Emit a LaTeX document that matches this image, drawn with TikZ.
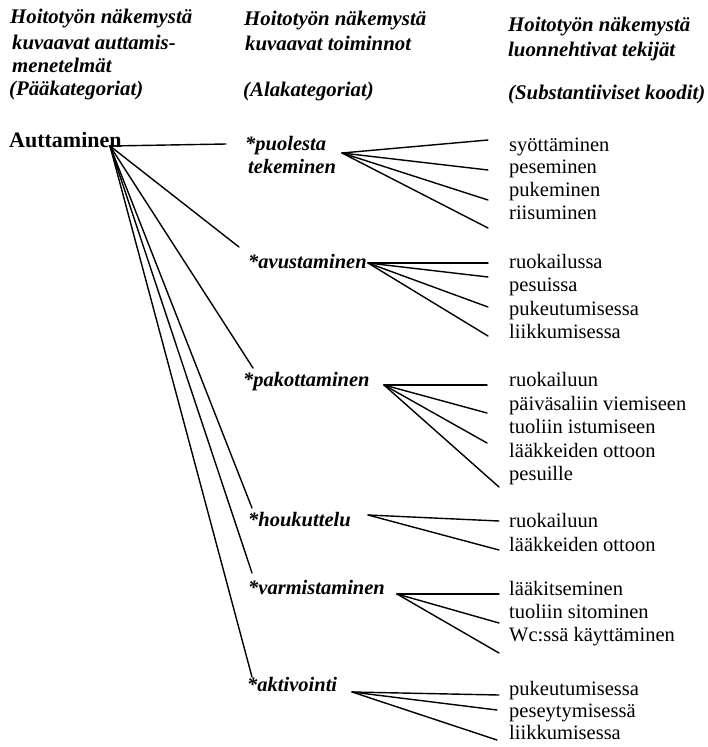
\documentclass[tikz,border=0pt]{standalone}
\usepackage{fontspec}
\setmainfont{Liberation Serif}
\begin{document}
\begin{tikzpicture}[x=1pt,y=-1pt,
  hdr/.style={anchor=base west, inner sep=0pt, font=\fontsize{20.8}{23}\selectfont\bfseries\itshape},
  sublbl/.style={anchor=base west, inner sep=0pt, font=\fontsize{20.5}{23}\selectfont\bfseries\itshape},
  codelbl/.style={anchor=base west, inner sep=0pt, font=\fontsize{20.5}{23}\selectfont},
  mainlbl/.style={anchor=base west, inner sep=0pt, font=\fontsize{22}{26}\selectfont\bfseries},
  link/.style={line width=1.4pt, line cap=round}]
\useasboundingbox (0,0) rectangle (708,747);
% headers
\node[hdr] (h11) at (10,23) {Hoitotyön näkemystä};
\node[hdr] (h12) at (12,49) {kuvaavat auttamis-};
\node[hdr] (h13) at (12,72) {menetelmät};
\node[hdr] (h14) at (9,95) {(Pääkategoriat)};
\node[hdr] (h21) at (244,25) {Hoitotyön näkemystä};
\node[hdr] (h22) at (245,50) {kuvaavat toiminnot};
\node[hdr] (h23) at (243,96) {(Alakategoriat)};
\node[hdr] (h31) at (508,31) {Hoitotyön näkemystä};
\node[hdr] (h32) at (508,56) {luonnehtivat tekijät};
\node[hdr] (h33) at (508,99) {(Substantiiviset koodit)};
% main category
\node[mainlbl] (aut) at (9,147) {Auttaminen};
\coordinate (o0) at (110,146);
% subcategories
\node[sublbl] (s1) at (245,150) {*puolesta};
\node[sublbl] (s1b) at (248,173) {tekeminen};
\node[sublbl] (s2) at (248,268) {*avustaminen};
\node[sublbl] (s3) at (243,386) {*pakottaminen};
\node[sublbl] (s4) at (248,526) {*houkuttelu};
\node[sublbl] (s5) at (248,594) {*varmistaminen};
\node[sublbl] (s6) at (247,691) {*aktivointi};
% endpoints of main lines
\coordinate (e1) at (226,144);
\coordinate (e2) at (239,247);
\coordinate (e3) at (253,368);
\coordinate (e4) at (252,508);
\coordinate (e5) at (252,573);
\coordinate (e6) at (252,677);
\foreach \i in {1,...,6} \draw[link] (o0) -- (e\i);
% fan origins
\coordinate (f1) at (342,153);
\coordinate (f2) at (368,263);
\coordinate (f3) at (384,385);
\coordinate (f4) at (368,515);
\coordinate (f5) at (397,594);
\coordinate (f6) at (352,692);
% codes group 1
\node[codelbl] (c11) at (509,151) {syöttäminen};
\node[codelbl] (c12) at (509,173) {peseminen};
\node[codelbl] (c13) at (509,196) {pukeminen};
\node[codelbl] (c14) at (509,219) {riisuminen};
\coordinate (d11) at (488,140);
\coordinate (d12) at (488,170);
\coordinate (d13) at (488,200);
\coordinate (d14) at (488,228);
\foreach \j in {1,...,4} \draw[link] (f1) -- (d1\j);
% group 2
\node[codelbl] (c21) at (509,268) {ruokailussa};
\node[codelbl] (c22) at (509,291) {pesuissa};
\node[codelbl] (c23) at (509,315) {pukeutumisessa};
\node[codelbl] (c24) at (509,338) {liikkumisessa};
\coordinate (d21) at (488,263);
\coordinate (d22) at (488,277);
\coordinate (d23) at (488,307);
\coordinate (d24) at (488,336);
\foreach \j in {1,...,4} \draw[link] (f2) -- (d2\j);
% group 3
\node[codelbl] (c31) at (509,386) {ruokailuun};
\node[codelbl] (c32) at (509,410) {päiväsaliin viemiseen};
\node[codelbl] (c33) at (509,433) {tuoliin istumiseen};
\node[codelbl] (c34) at (509,457) {lääkkeiden ottoon};
\node[codelbl] (c35) at (509,480) {pesuille};
\coordinate (d31) at (487,385);
\coordinate (d32) at (487,413);
\coordinate (d33) at (487,443);
\coordinate (d34) at (499,487);
\foreach \j in {1,...,4} \draw[link] (f3) -- (d3\j);
% group 4
\node[codelbl] (c41) at (509,527) {ruokailuun};
\node[codelbl] (c42) at (509,551) {lääkkeiden ottoon};
\coordinate (d41) at (499,521);
\coordinate (d42) at (499,550);
\foreach \j in {1,2} \draw[link] (f4) -- (d4\j);
% group 5
\node[codelbl] (c51) at (509,595) {lääkitseminen};
\node[codelbl] (c52) at (509,618) {tuoliin sitominen};
\node[codelbl] (c53) at (509,641) {Wc:ssä käyttäminen};
\coordinate (d51) at (499,594);
\coordinate (d52) at (499,623);
\coordinate (d53) at (499,653);
\foreach \j in {1,2,3} \draw[link] (f5) -- (d5\j);
% group 6
\node[codelbl] (c61) at (509,695) {pukeutumisessa};
\node[codelbl] (c62) at (509,717) {peseytymisessä};
\node[codelbl] (c63) at (509,739) {liikkumisessa};
\coordinate (d61) at (499,695);
\coordinate (d62) at (497,710);
\coordinate (d63) at (497,740);
\foreach \j in {1,2,3} \draw[link] (f6) -- (d6\j);
\end{tikzpicture}
\end{document}
